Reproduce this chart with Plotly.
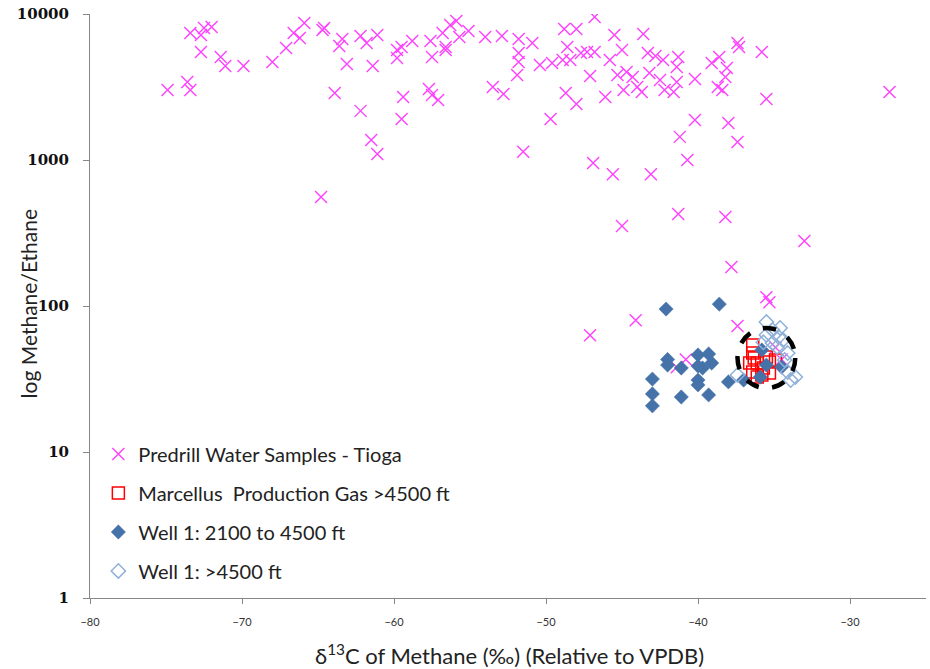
import plotly.graph_objects as go

# ---- data ----
predrill_x = [-74.9, -73.6, -73.4, -73.4, -72.7, -72.5, -72.0, -72.7, -71.4, -71.1,
              -69.9, -68.0, -67.1, -66.6, -66.2, -65.9, -64.7, -64.6, -63.9, -63.4,
              -63.6, -63.1, -62.2, -61.8, -62.2, -61.4, -61.5, -61.1, -61.1, -64.8,
              -59.8, -59.5, -59.8, -58.8, -57.6, -57.5, -56.8, -56.3, -55.9, -56.6,
              -56.6, -55.7, -55.1, -59.4, -59.5, -57.7, -57.5, -57.1, -54.0, -52.9,
              -51.8, -51.8, -51.8, -51.9, -50.9, -53.5, -52.8, -51.5, -50.4, -49.6,
              -48.9, -48.6, -48.4, -48.8, -48.0, -46.8, -47.7, -47.3, -46.8, -47.1,
              -48.7, -48.0, -49.7, -46.9, -45.6, -43.1, -45.5, -43.6, -45.8, -45.0,
              -45.3, -44.7, -44.3, -44.0, -44.9, -46.1, -43.7, -43.3, -42.8, -42.3,
              -43.2, -42.5, -42.2, -41.3, -41.4, -41.4, -41.6, -40.2, -39.1, -38.6,
              -38.1, -38.2, -38.7, -38.4, -37.4, -37.3, -35.8, -35.5, -27.4, -40.2,
              -38.0, -41.2, -37.4, -40.7, -45.0, -41.3, -38.2, -33.0, -37.8, -35.5,
              -35.3, -44.1, -37.4, -47.1, -40.8, -41.4, -34.9, -34.5]
predrill_y = [3020, 3420, 3020, 7410, 7180, 8020, 8150, 5490, 5080, 4400,
              4400, 4690, 5850, 7410, 6850, 8680, 7770, 8020, 2880, 6740,
              6040, 4550, 7070, 6330, 2170, 4400, 1370, 1100, 7180, 558,
              5670, 5940, 5000, 6530, 6530, 5080, 7410, 8410, 8950, 5940,
              5670, 6960, 7650, 2700, 1910, 3060, 2790, 2580, 6960, 7070,
              6740, 5400, 4690, 3820, 6330, 3160, 2830, 1140, 4480, 4620,
              4840, 5940, 4840, 7890, 7890, 9540, 5400, 5490, 5490, 3760,
              2880, 2420, 1910, 955, 800, 800, 7180, 7300, 4840, 5670,
              3820, 4010, 3700, 3160, 3020, 2700, 2920, 5400, 5160, 4840,
              3940, 3530, 3020, 5080, 4340, 3420, 2920, 3590, 4620, 5080,
              4270, 3700, 3160, 3020, 6330, 5940, 5490, 2620, 2920, 1880,
              1790, 1440, 1330, 1000, 353, 427, 407, 279, 185, 115,
              106, 80, 73, 63, 43, 38, 52, 43]

marcellus_x = [-36.4, -36.4, -36.3, -36.6, -36.1, -36.4, -35.7, -35.3, -35.3, -36.1,
               -35.8, -35.5, -34.9]
marcellus_y = [54, 47.6, 44, 40.7, 40.7, 35.3, 37.6, 41.3, 34.8, 32.6,
               33.7, 44.7, 42.7]

well_shallow_x = [-42.1, -38.6, -42.0, -42.0, -43.0, -43.0, -43.0, -41.1, -41.1, -40.0,
                  -40.0, -39.7, -39.3, -39.1, -40.0, -40.0, -39.3, -38.0, -37.0, -35.8,
                  -35.9, -35.5, -34.5]
well_shallow_y = [95.3, 103, 43, 39.4, 31.6, 25.0, 20.7, 37.6, 23.8, 46.2,
                  38.8, 37.6, 46.9, 40.7, 31.1, 28.8, 24.6, 30.2, 31.1, 50.0,
                  32.6, 39.4, 38.2]

well_deep_x = [-35.5, -35.1, -34.6, -35.5, -34.7, -34.4, -35.7, -35.1, -34.1, -34.3,
               -34.1, -33.6, -33.9, -37.4, -34.8]
well_deep_y = [77.7, 68.5, 70.7, 63.3, 61.3, 58.5, 56.4, 55.8, 47.6, 42.7,
               35.3, 32.6, 31.1, 33.7, 52.4]

# highlighted cluster (dashed circle) bounds in data units
circle_x = [-37.4, -33.6]
circle_y = [27.4, 70.7]

x_ticks = [-80, -70, -60, -50, -40, -30]
y_ticks = [1, 10, 100, 1000, 10000]
y_tick_text = ["1", "10", "100", "1000", "10000"]

names = ["Predrill Water Samples - Tioga",
         "Marcellus  Production Gas >4500 ft",
         "Well 1: 2100 to 4500 ft",
         "Well 1: >4500 ft"]

fig = go.Figure()
fig.add_trace(go.Scatter(
    x=predrill_x, y=predrill_y, mode="markers", name=names[0], legendgroup="a",
    marker=dict(symbol="x-thin-open", size=12, color="#ff40ff",
                line=dict(color="#ff40ff", width=1.4))))
fig.add_trace(go.Scatter(
    x=marcellus_x, y=marcellus_y, mode="markers", name=names[1], legendgroup="b",
    marker=dict(symbol="square-open", size=12, color="#ff0000",
                line=dict(color="#ff0000", width=1.5))))
fig.add_trace(go.Scatter(
    x=well_shallow_x, y=well_shallow_y, mode="markers", name=names[2], legendgroup="c",
    marker=dict(symbol="diamond", size=11, color="#4672aa",
                line=dict(color="#4672aa", width=0.5))))
fig.add_trace(go.Scatter(
    x=well_deep_x, y=well_deep_y, mode="markers", name=names[3], legendgroup="d",
    marker=dict(symbol="diamond-open", size=11, color="#8fb0d8",
                line=dict(color="#8fb0d8", width=1.5))))

fig.add_shape(type="circle", xref="x", yref="y",
              x0=circle_x[0], x1=circle_x[1], y0=circle_y[0], y1=circle_y[1],
              line=dict(color="black", width=4.5, dash="dash"), layer="above")

fig.add_annotation(text="log Methane/Ethane", xref="paper", yref="paper",
                   x=-0.074, y=0.503, xanchor="center", yanchor="middle",
                   textangle=-90, showarrow=False,
                   font=dict(size=21, color="#222222"))
fig.add_annotation(text="δ<sup>13</sup>C of Methane (‰) (Relative to VPDB)",
                   xref="paper", yref="paper", x=0.502, y=-0.096,
                   xanchor="center", yanchor="middle", showarrow=False,
                   font=dict(size=22, color="#222222"))

fig.update_layout(
    width=930, height=669,
    margin=dict(l=90, r=4, t=14, b=71),
    paper_bgcolor="white", plot_bgcolor="white",
    font=dict(family="Lato, Open Sans, sans-serif", color="#222222"),
    showlegend=True,
    legend=dict(x=0.01, y=0.28, xanchor="left", yanchor="top",
                bgcolor="rgba(0,0,0,0)", font=dict(size=20, color="#222222"),
                tracegroupgap=10, itemwidth=30),
    xaxis=dict(range=[-80, -25], tickvals=x_ticks, showline=True, automargin=False,
               linecolor="#868686", linewidth=1, ticks="outside", ticklen=5,
               tickcolor="#868686", showgrid=False, zeroline=False,
               tickfont=dict(size=11, color="#333333"), ticklabelstandoff=9),
    yaxis=dict(type="log", range=[0, 4], tickvals=y_ticks, ticktext=y_tick_text,
               showline=True, automargin=False, linecolor="#868686", linewidth=1,
               ticks="outside", ticklen=6, tickcolor="#868686", showgrid=False,
               zeroline=False,
               tickfont=dict(family="DejaVu Serif", size=15, color="#111111", weight="bold"),
               ticklabelstandoff=11),
)

fig.write_html("out.html")
